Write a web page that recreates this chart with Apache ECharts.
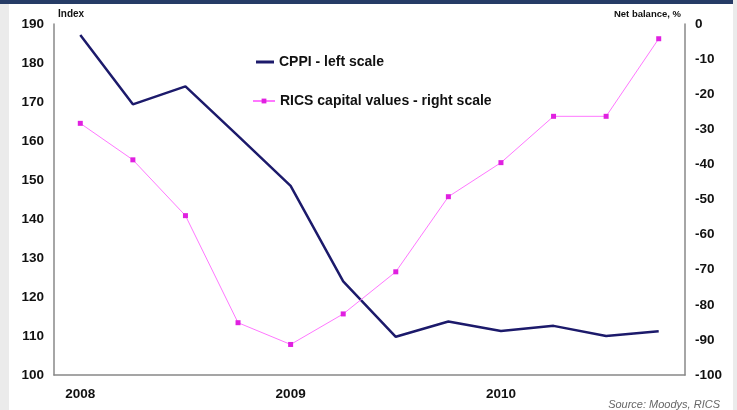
<!DOCTYPE html>
<html>
<head>
<meta charset="utf-8">
<script src="https://cdn.jsdelivr.net/npm/echarts@6/dist/echarts.min.js"></script>
<style>
  html, body { margin: 0; padding: 0; }
  #main { width: 737px; height: 410px; }
</style>
</head>
<body>
<div id="main"></div>
<script>
// quarterly points, Q1 2008 - Q4 2010
const quarters = ['2008', '', '', '', '2009', '', '', '', '2010', '', '', '']
const cppi = [187.2, 169.4, 174, 161.3, 148.5, 124, 109.8, 113.7, 111.3, 112.6, 110, 111.2]
const rics = [-28.3, -38.7, -54.6, -85.1, -91.3, -82.6, -70.6, -49.2, -39.5, -26.3, -26.3, -4.2]

const FONT = 'Liberation Sans, Arial'
const labelFont = {
  color: '#111',
  fontFamily: FONT,
  fontWeight: 'bold',
  fontSize: 13.5
}
const legendText = { color: '#111', fontFamily: FONT, fontWeight: 'bold', fontSize: 14 }

const chart = echarts.init(document.getElementById('main'))
chart.setOption({
  animation: false,
  backgroundColor: '#ebebeb',
  graphic: [
    { type: 'rect', shape: { x: 9, y: 0, width: 724, height: 410 }, style: { fill: '#fff' }, z: -10 },
    { type: 'rect', shape: { x: 0, y: 0, width: 733, height: 4 }, style: { fill: '#263c66' }, z: -9 },
    {
      type: 'text',
      right: 17,
      bottom: 0,
      style: {
        text: 'Source: Moodys, RICS',
        fill: '#666',
        fontFamily: FONT,
        fontStyle: 'italic',
        fontSize: 11
      }
    }
  ],
  grid: { left: 54, right: 52, top: 24, bottom: 35 },
  legend: [
    {
      left: 251,
      top: 50,
      itemWidth: 18,
      itemHeight: 3,
      icon: 'rect',
      textStyle: legendText,
      data: ['CPPI - left scale']
    },
    {
      left: 247,
      top: 89,
      itemWidth: 22,
      itemHeight: 6,
      textStyle: legendText,
      data: ['RICS capital values - right scale']
    }
  ],
  xAxis: {
    type: 'category',
    data: quarters,
    boundaryGap: true,
    axisLine: { onZero: false, lineStyle: { color: '#888', width: 1.5 } },
    axisTick: { show: false },
    axisLabel: Object.assign({ interval: 0, margin: 12 }, labelFont),
    splitLine: { show: false }
  },
  yAxis: [
    {
      type: 'value',
      min: 100,
      max: 190,
      interval: 10,
      name: 'Index',
      nameLocation: 'end',
      nameGap: 5,
      nameTextStyle: { color: '#111', fontFamily: FONT, fontWeight: 'bold', fontSize: 10, align: 'left', padding: [0, 0, 0, 4] },
      axisLine: { show: true, lineStyle: { color: '#888', width: 1.5 } },
      axisTick: { show: false },
      axisLabel: Object.assign({ margin: 10 }, labelFont),
      splitLine: { show: false }
    },
    {
      type: 'value',
      min: -100,
      max: 0,
      interval: 10,
      name: 'Net balance, %',
      nameLocation: 'end',
      nameGap: 5,
      nameTextStyle: { color: '#111', fontFamily: FONT, fontWeight: 'bold', fontSize: 9.5, align: 'right', padding: [0, 4, 0, 0] },
      axisLine: { show: true, lineStyle: { color: '#888', width: 1.5 } },
      axisTick: { show: false },
      axisLabel: Object.assign({ margin: 10 }, labelFont),
      splitLine: { show: false }
    }
  ],
  series: [
    {
      name: 'CPPI - left scale',
      type: 'line',
      yAxisIndex: 0,
      data: cppi,
      symbol: 'none',
      color: '#1c1a6b',
      lineStyle: { width: 2.5, color: '#1c1a6b' }
    },
    {
      name: 'RICS capital values - right scale',
      type: 'line',
      yAxisIndex: 1,
      data: rics,
      symbol: 'rect',
      symbolSize: 5,
      color: '#e020e0',
      itemStyle: { color: '#e020e0' },
      lineStyle: { width: 1, color: '#ff77ff' }
    }
  ]
})
</script>
</body>
</html>
